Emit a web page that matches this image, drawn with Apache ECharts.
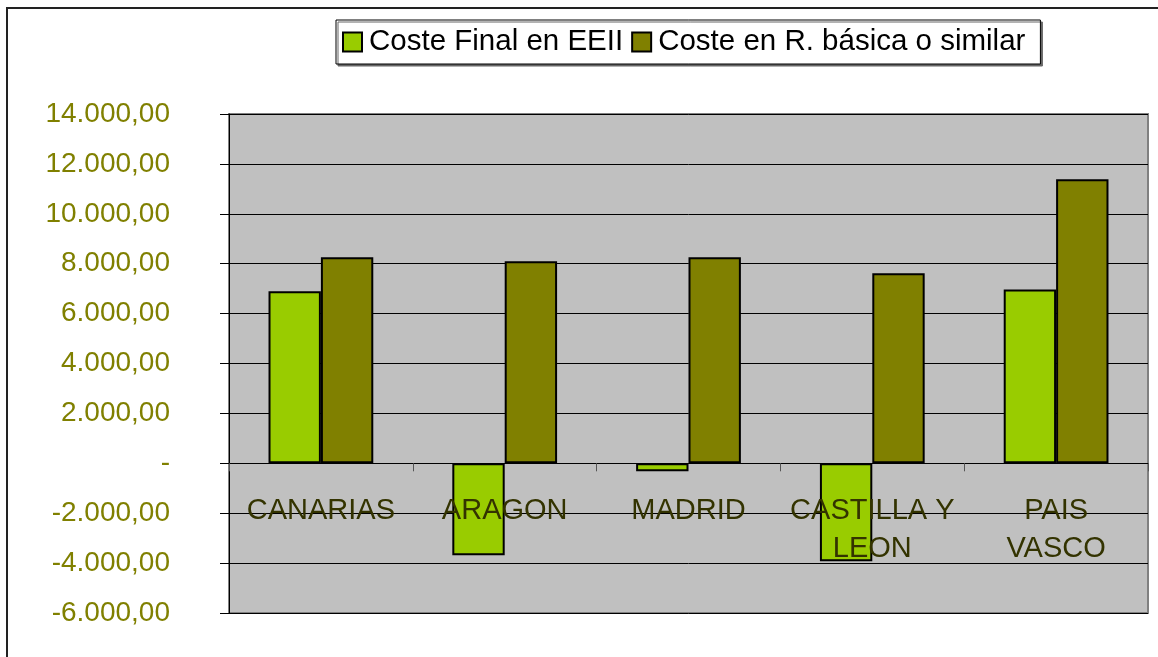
<!DOCTYPE html>
<html>
<head>
<meta charset="utf-8">
<script src="https://cdn.jsdelivr.net/npm/echarts@6/dist/echarts.min.js"></script>
<style>
  html, body { margin: 0; padding: 0; background: #fff; }
  #chart { width: 1158px; height: 657px; }
</style>
</head>
<body>
<div id="chart"></div>
<script>
// datos
var regiones = ['CANARIAS', 'ARAGON', 'MADRID', 'CASTILLA Y\nLEON', 'PAIS\nVASCO'];
var costeFinal = [6900, -3690, -320, -3930, 6970];
var costeBasica = [8260, 8100, 8260, 7620, 11380];
var nombres = ['Coste Final en EEII', 'Coste en R. básica o similar'];

function fmtEs(v) {
    if (v === 0) return '-';
    var neg = v < 0;
    var s = Math.abs(v).toFixed(0).replace(/\B(?=(\d{3})+(?!\d))/g, '.');
    return (neg ? '-' : '') + s + ',00';
}

var myChart = echarts.init(document.getElementById('chart'));
myChart.setOption({
    animation: false,
    textStyle: {fontFamily: '"Liberation Sans", Arial, sans-serif'},
    graphic: [
        {
            type: 'rect',
            shape: {x: 7, y: 8, width: 1300, height: 800},
            style: {fill: 'none', stroke: '#222', lineWidth: 2},
            silent: true
        }
    ],
    legend: {
        data: nombres,
        left: 336,
        top: 20,
        padding: [7, 15, 7, 6],
        itemGap: 8,
        itemWidth: 19,
        itemHeight: 19,
        icon: 'rect',
        borderColor: '#000',
        borderWidth: 1,
        backgroundColor: '#fff',
        shadowColor: '#666',
        shadowOffsetX: 2,
        shadowOffsetY: 2,
        textStyle: {fontSize: 29.5, color: '#000', padding: [0, 0, 0, 2]}
    },
    grid: {
        left: 229,
        top: 114,
        right: 10,
        bottom: 44,
        outerBoundsMode: 'none',
        containLabel: false,
        show: true,
        backgroundColor: '#c0c0c0',
        borderColor: '#808080',
        borderWidth: 2
    },
    xAxis: {
        type: 'category',
        data: regiones,
        z: 5,
        axisLine: {onZero: true, lineStyle: {color: '#000', width: 1}},
        axisTick: {show: true, length: 8, lineStyle: {color: '#555'}},
        axisLabel: {
            fontSize: 29,
            color: '#333300',
            margin: -121,
            lineHeight: 38,
            interval: 0
        }
    },
    yAxis: {
        type: 'value',
        min: -6000,
        max: 14000,
        interval: 2000,
        axisLine: {show: true, lineStyle: {color: '#000'}},
        axisTick: {show: true, length: 9, lineStyle: {color: '#000'}},
        splitLine: {show: true, lineStyle: {color: '#000', width: 1}},
        axisLabel: {
            fontSize: 28,
            color: '#808000',
            margin: 59,
            formatter: fmtEs
        }
    },
    series: [
        {
            name: nombres[0],
            type: 'bar',
            data: costeFinal,
            barGap: '0%',
            barCategoryGap: '43%',
            itemStyle: {color: '#99cc00', borderColor: '#000', borderWidth: 2}
        },
        {
            name: nombres[1],
            type: 'bar',
            data: costeBasica,
            barGap: '0%',
            barCategoryGap: '43%',
            itemStyle: {color: '#808000', borderColor: '#000', borderWidth: 2}
        }
    ]
});
</script>
</body>
</html>
